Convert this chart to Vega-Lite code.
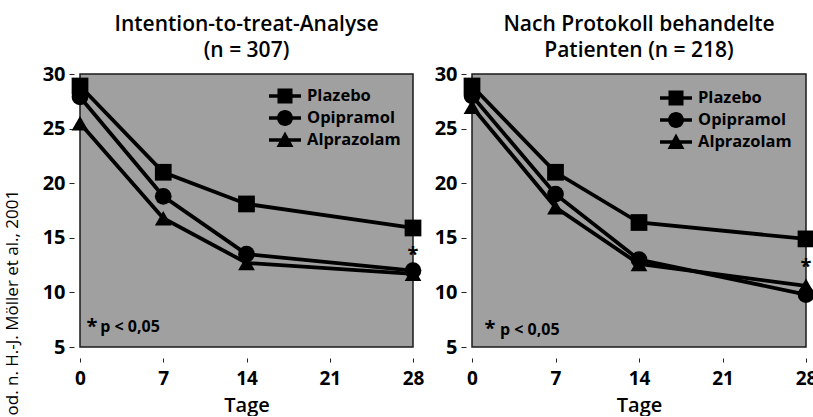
{
  "$schema": "https://vega.github.io/schema/vega-lite/v6.json",
  "background": "white",
  "padding": {"left": 2, "top": 13, "right": 0, "bottom": 0},
  "spacing": 8,
  "config": {
    "font": "Open Sans",
    "view": {"fill": "#a0a0a0", "stroke": "#1a1a1a", "strokeWidth": 1.5},
    "title": {"fontSize": 21, "fontWeight": 600, "color": "black", "lineHeight": 26, "offset": 3, "anchor": "middle", "frame": "group"},
    "axis": {"labelFont": "Open Sans", "labelFontWeight": "bold", "labelColor": "black", "tickColor": "#222", "tickSize": 5, "domain": false, "grid": false, "titleColor": "black", "labelFlush": false, "labelOverlap": false},
    "axisY": {"offset": 6, "labelPadding": 4, "labelFontSize": 20},
    "axisX": {"offset": 11, "tickSize": 4, "labelPadding": 7, "labelFontSize": 19, "titleFontSize": 20, "titleFontWeight": 600, "titlePadding": 7}
  },
  "datasets": {
    "series": [
      {"panel": "ITT", "series": "Plazebo", "day": 0, "value": 28.9},
      {"panel": "ITT", "series": "Plazebo", "day": 7, "value": 21.0},
      {"panel": "ITT", "series": "Plazebo", "day": 14, "value": 18.1},
      {"panel": "ITT", "series": "Plazebo", "day": 28, "value": 15.9},
      {"panel": "ITT", "series": "Opipramol", "day": 0, "value": 27.9},
      {"panel": "ITT", "series": "Opipramol", "day": 7, "value": 18.8},
      {"panel": "ITT", "series": "Opipramol", "day": 14, "value": 13.5},
      {"panel": "ITT", "series": "Opipramol", "day": 28, "value": 12.0},
      {"panel": "ITT", "series": "Alprazolam", "day": 0, "value": 25.5},
      {"panel": "ITT", "series": "Alprazolam", "day": 7, "value": 16.8},
      {"panel": "ITT", "series": "Alprazolam", "day": 14, "value": 12.7},
      {"panel": "ITT", "series": "Alprazolam", "day": 28, "value": 11.7},
      {"panel": "PP", "series": "Plazebo", "day": 0, "value": 28.9},
      {"panel": "PP", "series": "Plazebo", "day": 7, "value": 21.0},
      {"panel": "PP", "series": "Plazebo", "day": 14, "value": 16.4},
      {"panel": "PP", "series": "Plazebo", "day": 28, "value": 14.9},
      {"panel": "PP", "series": "Opipramol", "day": 0, "value": 28.0},
      {"panel": "PP", "series": "Opipramol", "day": 7, "value": 19.0},
      {"panel": "PP", "series": "Opipramol", "day": 14, "value": 13.0},
      {"panel": "PP", "series": "Opipramol", "day": 28, "value": 9.8},
      {"panel": "PP", "series": "Alprazolam", "day": 0, "value": 27.0},
      {"panel": "PP", "series": "Alprazolam", "day": 7, "value": 17.8},
      {"panel": "PP", "series": "Alprazolam", "day": 14, "value": 12.6},
      {"panel": "PP", "series": "Alprazolam", "day": 28, "value": 10.6}
    ],
    "notes": [
      {"panel": "ITT", "kind": "star", "day": 28, "value": 13.9, "label": "*"},
      {"panel": "ITT", "kind": "star", "day": 1.0, "value": 7.3, "label": "*"},
      {"panel": "ITT", "kind": "text", "day": 1.7, "value": 6.8, "label": "p < 0,05"},
      {"panel": "PP", "kind": "star", "day": 28, "value": 12.8, "label": "*"},
      {"panel": "PP", "kind": "star", "day": 1.5, "value": 7.1, "label": "*"},
      {"panel": "PP", "kind": "text", "day": 2.35, "value": 6.55, "label": "p < 0,05"}
    ]
  },
  "hconcat": [
    {
      "width": 333,
      "height": 273,
      "title": {"text": ["Intention-to-treat-Analyse", "(n = 307)"]},
      "layer": [
        {
          "data": {"name": "series"},
          "transform": [{"filter": "datum.panel === 'ITT'"}],
          "mark": {"type": "line", "color": "black", "strokeWidth": 3.8},
          "encoding": {
            "x": {"field": "day", "type": "quantitative", "scale": {"domain": [0, 28], "nice": false}, "axis": {"values": [0, 7, 14, 21, 28], "title": "Tage"}},
            "y": {"field": "value", "type": "quantitative", "scale": {"domain": [5, 30], "nice": false, "zero": false}, "axis": {"values": [5, 10, 15, 20, 25, 30], "title": "od. n. H.-J. Möller et al., 2001", "titleX": -62, "titleY": 341, "titleAngle": -90, "titleAlign": "left", "titleBaseline": "middle", "titleFontSize": 17, "titleFontWeight": "normal"}},
            "detail": {"field": "series"}
          }
        },
        {
          "data": {"name": "series"},
          "transform": [{"filter": "datum.panel === 'ITT'"}],
          "mark": {"type": "point", "filled": true, "opacity": 1, "size": 280},
          "encoding": {
            "x": {"field": "day", "type": "quantitative"},
            "y": {"field": "value", "type": "quantitative"},
            "shape": {
              "field": "series", "type": "nominal",
              "scale": {"domain": ["Alprazolam", "Opipramol", "Plazebo"], "range": ["triangle-up", "circle", "square"]},
              "legend": null
            },
            "color": {
              "field": "series", "type": "nominal",
              "scale": {"domain": ["Plazebo", "Opipramol", "Alprazolam"], "range": ["black", "black", "black"]},
              "legend": {
                "title": null, "orient": "top-right", "offset": 12, "padding": 0,
                "symbolSize": 400, "labelFontSize": 16.5, "labelFontWeight": "bold", "labelColor": "black",
                "labelOffset": 12, "rowPadding": 3, "symbolStrokeWidth": 0, "symbolOpacity": 1,
                "encode": {"symbols": {"update": {"shape": {"signal": "datum.value === 'Plazebo' ? 'M-1.6,-0.18H1.6V0.18H-1.6Z M-0.75,-0.75H0.75V0.75H-0.75Z' : datum.value === 'Opipramol' ? 'M-1.6,-0.18H1.6V0.18H-1.6Z M-0.8,0A0.8,0.8 0 1 1 0.8,0A0.8,0.8 0 1 1 -0.8,0Z' : 'M-1.6,-0.18H1.6V0.18H-1.6Z M0,-0.85L0.85,0.7H-0.85Z'"}}}}
              }
            }
          }
        },
        {
          "data": {"name": "notes"},
          "transform": [{"filter": "datum.panel === 'ITT' && datum.kind === 'star'"}],
          "mark": {"type": "text", "fontSize": 20, "fontWeight": "bold", "color": "black", "align": "center", "baseline": "middle", "dy": 5},
          "encoding": {
            "x": {"field": "day", "type": "quantitative"},
            "y": {"field": "value", "type": "quantitative"},
            "text": {"field": "label"}
          }
        },
        {
          "data": {"name": "notes"},
          "transform": [{"filter": "datum.panel === 'ITT' && datum.kind === 'text'"}],
          "mark": {"type": "text", "fontSize": 16, "fontWeight": "bold", "color": "black", "align": "left", "baseline": "middle"},
          "encoding": {
            "x": {"field": "day", "type": "quantitative"},
            "y": {"field": "value", "type": "quantitative"},
            "text": {"field": "label"}
          }
        }
      ]
    },
    {
      "width": 334,
      "height": 273,
      "title": {"text": ["Nach Protokoll behandelte", "Patienten (n = 218)"]},
      "layer": [
        {
          "data": {"name": "series"},
          "transform": [{"filter": "datum.panel === 'PP'"}],
          "mark": {"type": "line", "color": "black", "strokeWidth": 3.8},
          "encoding": {
            "x": {"field": "day", "type": "quantitative", "scale": {"domain": [0, 28], "nice": false}, "axis": {"values": [0, 7, 14, 21, 28], "title": "Tage"}},
            "y": {"field": "value", "type": "quantitative", "scale": {"domain": [5, 30], "nice": false, "zero": false}, "axis": {"values": [5, 10, 15, 20, 25, 30], "title": null}},
            "detail": {"field": "series"}
          }
        },
        {
          "data": {"name": "series"},
          "transform": [{"filter": "datum.panel === 'PP'"}],
          "mark": {"type": "point", "filled": true, "opacity": 1, "size": 280},
          "encoding": {
            "x": {"field": "day", "type": "quantitative"},
            "y": {"field": "value", "type": "quantitative"},
            "shape": {
              "field": "series", "type": "nominal",
              "scale": {"domain": ["Alprazolam", "Opipramol", "Plazebo"], "range": ["triangle-up", "circle", "square"]},
              "legend": null
            },
            "color": {
              "field": "series", "type": "nominal",
              "scale": {"domain": ["Plazebo", "Opipramol", "Alprazolam"], "range": ["black", "black", "black"]},
              "legend": {
                "title": null, "orient": "top-right", "offset": 14, "padding": 0,
                "symbolSize": 400, "labelFontSize": 16.5, "labelFontWeight": "bold", "labelColor": "black",
                "labelOffset": 12, "rowPadding": 3, "symbolStrokeWidth": 0, "symbolOpacity": 1,
                "encode": {"symbols": {"update": {"shape": {"signal": "datum.value === 'Plazebo' ? 'M-1.6,-0.18H1.6V0.18H-1.6Z M-0.75,-0.75H0.75V0.75H-0.75Z' : datum.value === 'Opipramol' ? 'M-1.6,-0.18H1.6V0.18H-1.6Z M-0.8,0A0.8,0.8 0 1 1 0.8,0A0.8,0.8 0 1 1 -0.8,0Z' : 'M-1.6,-0.18H1.6V0.18H-1.6Z M0,-0.85L0.85,0.7H-0.85Z'"}}}}
              }
            }
          }
        },
        {
          "data": {"name": "notes"},
          "transform": [{"filter": "datum.panel === 'PP' && datum.kind === 'star'"}],
          "mark": {"type": "text", "fontSize": 20, "fontWeight": "bold", "color": "black", "align": "center", "baseline": "middle", "dy": 5},
          "encoding": {
            "x": {"field": "day", "type": "quantitative"},
            "y": {"field": "value", "type": "quantitative"},
            "text": {"field": "label"}
          }
        },
        {
          "data": {"name": "notes"},
          "transform": [{"filter": "datum.panel === 'PP' && datum.kind === 'text'"}],
          "mark": {"type": "text", "fontSize": 16, "fontWeight": "bold", "color": "black", "align": "left", "baseline": "middle"},
          "encoding": {
            "x": {"field": "day", "type": "quantitative"},
            "y": {"field": "value", "type": "quantitative"},
            "text": {"field": "label"}
          }
        }
      ]
    }
  ],
  "resolve": {"scale": {"shape": "independent", "color": "independent"}}
}
